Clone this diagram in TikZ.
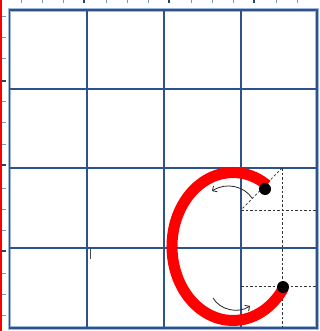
\documentclass[tikz,border=0pt]{standalone}
\usetikzlibrary{arrows.meta}
\definecolor{gridblue}{RGB}{47,82,143}
\definecolor{haloblue}{RGB}{160,185,215}
\definecolor{ticklight}{RGB}{110,160,185}
\definecolor{tickdark}{RGB}{40,70,100}
\begin{document}
\begin{tikzpicture}[x=1pt,y=-1pt,
  gridline/.style={draw=gridblue,line width=1.7pt},
  thickline/.style={draw=gridblue,line width=2.8pt},
  halo/.style={draw=haloblue,line width=3.6pt},
  guide/.style={draw=black!80,line width=0.7pt,dash pattern=on 2.5pt off 2pt},
  stroke/.style={draw=red,line width=11pt},
  dot/.style={circle,fill=black,inner sep=0pt,minimum size=12pt},
  hint/.style={draw=black!85,line width=0.8pt,-{Straight Barb[length=3.5pt,width=7pt]}},
  tickL/.style={draw=ticklight,line width=1pt},
  tickD/.style={draw=tickdark,line width=1.4pt}]
\useasboundingbox (0,0) rectangle (320,331);
\fill[white] (0,0) rectangle (320,331);
% rulers
\draw[red,line width=1.5pt] (0.75,0) -- (0.75,331);
\foreach \x in {21,42,63,106,127,148,191,212,233,276,297} \draw[tickL] (\x,0) -- (\x,3);
\foreach \x in {84,169,254} \draw[tickD] (\x,0) -- (\x,3);
\foreach \y in {17,38,59,102,123,144,188,209,230,273,294,315} \draw[tickL] (1.5,\y) -- (6,\y);
\foreach \y in {81,165,251} \draw[tickD] (1.5,\y) -- (6,\y);
% grid
\draw[halo] (9.5,10) rectangle (317,328);
\foreach \x in {87,241} \draw[gridline] (\x,10) -- (\x,328);
\foreach \y in {89,168,248} \draw[gridline] (9.5,\y) -- (317,\y);
\draw[gridline] (9.5,10) rectangle (317,328);
\draw[thickline] (164,10) -- (164,328);
\draw[thickline] (9.5,328) -- (317,328);
\draw[draw=black!70,line width=1pt] (90,249) -- (90,259);
% guides
\coordinate (gt) at (282,168);
\coordinate (gb) at (282,327);
\coordinate (gd) at (241,210);
\coordinate (h1a) at (241,210);
\coordinate (h1b) at (317,210);
\coordinate (h2a) at (241,286);
\coordinate (h2b) at (317,286);
\draw[guide] (gt) -- (gb);
\draw[guide] (gt) -- (gd);
\draw[guide] (h1a) -- (h1b);
\draw[guide] (h2a) -- (h2b);
% letter C
\draw[stroke] (233,246.5) ++(56:61 and -74) arc[start angle=-56,end angle=-326,x radius=61,y radius=74];
\node[dot] (top) at (265,189) {};
\node[dot] (bot) at (283,287) {};
% hint arrows
\coordinate (a1s) at (252,198);
\coordinate (a1e) at (212,191);
\coordinate (a2s) at (213,298);
\coordinate (a2e) at (250,306);
\draw[hint] (a1s) .. controls (244,186) and (226,182) .. (a1e);
\draw[hint] (a2s) .. controls (220,310) and (238,314) .. (a2e);
\end{tikzpicture}
\end{document}
